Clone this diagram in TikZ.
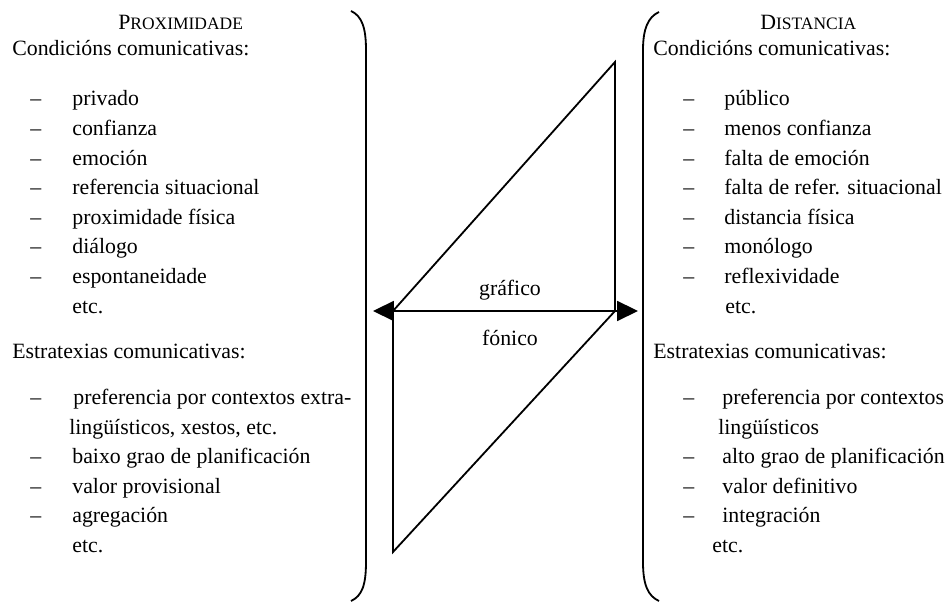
\documentclass[tikz,border=0pt]{standalone}
\usepackage{fontspec}
\setmainfont{Liberation Serif}
\usetikzlibrary{arrows.meta}
\begin{document}
\begin{tikzpicture}[x=0.55pt,y=-0.55pt,
    txt/.style={anchor=base west,inner sep=0pt,font=\fontsize{12pt}{14pt}\selectfont},
    ln/.style={line width=1pt},
    head/.style={{Triangle[length=11.5pt,width=11pt]}-{Triangle[length=11.5pt,width=11pt]}}]
    \useasboundingbox (0,0) rectangle (947,602);

    % left column
    \node[txt] (ptitle) at (118,30) {P{\fontsize{9.6pt}{10pt}\selectfont ROXIMIDADE}};
    \node[txt] (pcond) at (12,56) {Condicións comunicativas:};
    \node[txt] (pd1) at (30,106) {–};    \node[txt] (p1) at (72,106) {privado};
    \node[txt] (pd2) at (30,135.6) {–};  \node[txt] (p2) at (72,135.6) {confianza};
    \node[txt] (pd3) at (30,165.2) {–};  \node[txt] (p3) at (72,165.2) {emoción};
    \node[txt] (pd4) at (30,194.8) {–};  \node[txt] (p4) at (72,194.8) {referencia situacional};
    \node[txt] (pd5) at (30,224.4) {–};  \node[txt] (p5) at (72,224.4) {proximidade física};
    \node[txt] (pd6) at (30,254) {–};    \node[txt] (p6) at (72,254) {diálogo};
    \node[txt] (pd7) at (30,283.6) {–};  \node[txt] (p7) at (72,283.6) {espontaneidade};
    \node[txt] (petc1) at (72,313.2) {etc.};
    \node[txt] (pestr) at (12,359) {Estratexias comunicativas:};
    \node[txt] (pd8) at (30,405) {–};    \node[txt] (p8) at (73,405) {preferencia por contextos extra-};
    \node[txt] (p8b) at (69,434.5) {lingüísticos, xestos, etc.};
    \node[txt] (pd9) at (30,464) {–};    \node[txt] (p9) at (72,464) {baixo grao de planificación};
    \node[txt] (pd10) at (30,493.5) {–}; \node[txt] (p10) at (72,493.5) {valor provisional};
    \node[txt] (pd11) at (30,523) {–};   \node[txt] (p11) at (72,523) {agregación};
    \node[txt] (petc2) at (72,552.5) {etc.};

    % right column
    \node[txt] (dtitle) at (760,30) {D{\fontsize{9.6pt}{10pt}\selectfont ISTANCIA}};
    \node[txt] (dcond) at (653,56) {Condicións comunicativas:};
    \node[txt] (dd1) at (683,106) {–};    \node[txt] (d1) at (724,106) {público};
    \node[txt] (dd2) at (683,135.6) {–};  \node[txt] (d2) at (724,135.6) {menos confianza};
    \node[txt] (dd3) at (683,165.2) {–};  \node[txt] (d3) at (724,165.2) {falta de emoción};
    \node[txt] (dd4) at (683,194.8) {–};  \node[txt] (d4) at (724,194.8) {falta de refer. situacional};
    \node[txt] (dd5) at (683,224.4) {–};  \node[txt] (d5) at (724,224.4) {distancia física};
    \node[txt] (dd6) at (683,254) {–};    \node[txt] (d6) at (724,254) {monólogo};
    \node[txt] (dd7) at (683,283.6) {–};  \node[txt] (d7) at (724,283.6) {reflexividade};
    \node[txt] (detc1) at (725,313.2) {etc.};
    \node[txt] (destr) at (653,359) {Estratexias comunicativas:};
    \node[txt] (dd8) at (683,405) {–};    \node[txt] (d8) at (722,405) {preferencia por contextos};
    \node[txt] (d8b) at (718,434.5) {lingüísticos};
    \node[txt] (dd9) at (683,464) {–};    \node[txt] (d9) at (722,464) {alto grao de planificación};
    \node[txt] (dd10) at (683,493.5) {–}; \node[txt] (d10) at (722,493.5) {valor definitivo};
    \node[txt] (dd11) at (683,523) {–};   \node[txt] (d11) at (722,523) {integración};
    \node[txt] (detc2) at (712,552.5) {etc.};

    % brackets
    \draw[ln] (351,11) .. controls (362,16) and (366,28) .. (366,50) -- (366,562)
        .. controls (366,585) and (362,596) .. (351,601);
    \draw[ln] (659,12) .. controls (648,17) and (643,29) .. (643,50) -- (643,562)
        .. controls (643,585) and (648,596) .. (659,601);

    % triangles and arrow
    \coordinate (gtop) at (615,62);
    \coordinate (gR) at (615,311);
    \coordinate (gL) at (393,311);
    \coordinate (fbot) at (393,552);
    \coordinate (tipL) at (373,311);
    \coordinate (tipR) at (638,311);
    \draw[ln] (gL) -- (gtop) -- (gR);
    \draw[ln] (gR) -- (fbot) -- (gL);
    \draw[ln,head] (tipL) -- (tipR);
    \node[txt,anchor=base] (graf) at (510,296) {gráfico};
    \node[txt,anchor=base] (fon) at (510,346) {fónico};
\end{tikzpicture}
\end{document}
